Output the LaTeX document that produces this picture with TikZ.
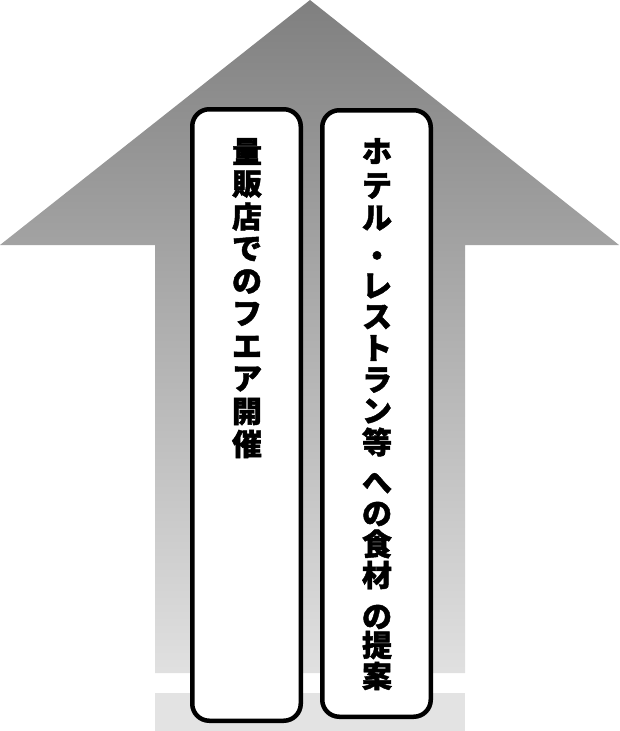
\documentclass[tikz,border=0pt]{standalone}
\usepackage{fontspec}
\newfontfamily\jpfont{Noto Sans CJK JP}[BoldFeatures={FakeBold=1.5}]
\definecolor{arrowtop}{gray}{0.5}
\definecolor{arrowbottom}{gray}{0.88}
\definecolor{bandgray}{gray}{0.89}
\tikzset{
	panel/.style={draw, line width=4.5pt, rounded corners=17pt, fill=white, minimum width=108.5pt},
	glyph/.style={inner sep=0pt, font=\jpfont\bfseries\fontsize{30}{32}\selectfont}
}

\begin{document}
\begin{tikzpicture}[x=1pt,y=-1pt]
	\useasboundingbox (0,0) rectangle (619,731);
	% big arrow and the band under it
	\shade[top color=arrowtop, bottom color=arrowbottom] (310,0) -- (619,245) -- (465,245) -- (465,673) -- (155,673) -- (155,245) -- (0,245) -- cycle;
	\fill[bandgray] (155,693) rectangle (465,731);

	\node (fairbox) [panel, minimum height=611.5pt] at (246.5,415) {};
	\node (hotelbox) [panel, minimum height=606.5pt] at (376.5,413.5) {};

	% vertical text, one glyph per node
	\foreach \ch [count=\i] in {量,販,店,で,の,フ,エ,ア,開,催}
		\node (fair\i) [glyph] at (247,{151.5+32.5*(\i-1)}) {\ch};
	\foreach \ch/\y [count=\i] in {ホ/151,テ/186,ル/218,・/259,レ/286,ス/317,ト/348,ラ/380,ン/411,等/442,へ/483,の/514,食/544,材/575,の/617,提/645,案/676}
		\node (hotel\i) [glyph] at (377,\y) {\ch};
\end{tikzpicture}
\end{document}
